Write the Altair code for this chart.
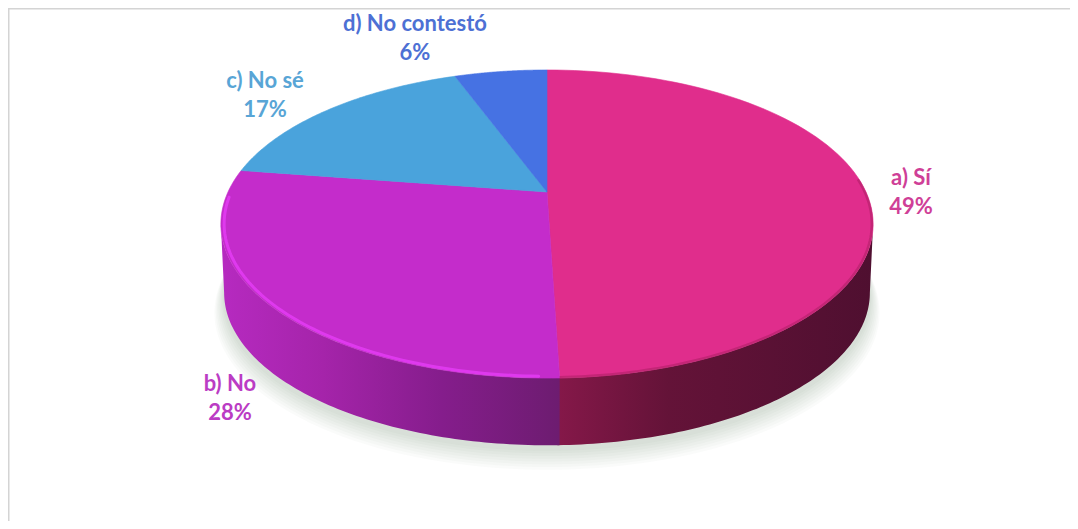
import numpy as np
import altair as alt

# Values (the slice geometry fits 49.5 / 27.9 / 17.0 / 5.6)
categories = ["a) Sí", "b) No", "c) No sé", "d) No contestó"]
shares = [49.5, 27.9, 17.0, 5.6]
percent_labels = ["49%", "28%", "17%", "6%"]
face_colors = ["#e02d8c", "#c42ccb", "#4aa3dc", "#4672e3"]
text_colors = ["#cf3f97", "#bb3cc4", "#58a5d6", "#4d70d4"]

# Perspective disc used to project angles on screen
CX, CY = 547.0, 192.0
RX, RY, K = 319.0, 147.4, 0.208
LIP, SINK = 0.99, 69.0
EDGE_R, EDGE_L = 102.0, 258.0  # silhouette angles of the perspective rim


def rim(a0, a1, scale=1.0, dy=0.0, n=90):
    t = np.radians(np.linspace(a0, a1, n))
    u, v = np.sin(t), np.cos(t)
    w = 1 + K * v
    return np.column_stack([CX + scale * RX * u / w, CY + dy - scale * RY * v / w]).tolist()


def feature(kind, coords, key="x"):
    return {"type": "Feature", "properties": {"key": key},
            "geometry": {"type": kind, "coordinates": coords}}


PROJ = dict(type="identity", scale=1, translate=[-8, -8])
edges = np.cumsum([0.0] + shares) * 3.6


def shape(features, **mark):
    return alt.Chart(alt.Data(values=features)).mark_geoshape(**mark).project(**PROJ)


def hgrad(stops):
    return {"gradient": "linear", "x1": 0, "x2": 1, "y1": 0, "y2": 0,
            "stops": [{"offset": o, "color": c} for o, c in stops]}


layers = []

# soft ground shadow
for grow, drop in [(1.03, 19), (1.026, 17), (1.022, 15), (1.018, 13), (1.014, 11),
                   (1.01, 9), (1.006, 7), (1.003, 5)]:
    ring = rim(0, 360, LIP * grow, SINK + drop, 180)
    layers.append(shape([feature("Polygon", [ring])], fill="#607060", fillOpacity=0.03, stroke=None))

# side walls (a runs a little under b so no seam shows)
wall_a_top = rim(EDGE_R, edges[1] + 0.3)
wall_a_low = rim(edges[1] + 0.3, EDGE_R, LIP, SINK)
layers.append(shape([feature("Polygon", [wall_a_top + wall_a_low + wall_a_top[:1]])],
                    fill=hgrad([(0, "#851849"), (0.35, "#641338"), (1, "#4f0f30")]), stroke=None))
wall_b_top = rim(edges[1], EDGE_L)
wall_b_low = rim(EDGE_L, edges[1], LIP, SINK)
layers.append(shape([feature("Polygon", [wall_b_top + wall_b_low + wall_b_top[:1]])],
                    fill=hgrad([(0, "#b62ac0"), (0.3, "#a524aa"), (0.65, "#851d8c"), (1, "#6d1c70")]), stroke=None))

# top faces
apex = [CX, CY]
faces = []
for i, name in enumerate(categories):
    arc = rim(edges[i], edges[i + 1])
    faces.append(feature("Polygon", [[apex] + arc + [apex]], name))
face_scale = alt.Scale(domain=categories, range=face_colors)
layers.append(shape(faces, strokeWidth=0.6).encode(
    color=alt.Color("properties.key:N", legend=None, scale=face_scale),
    stroke=alt.Stroke("properties.key:N", legend=None, scale=face_scale)))

# rim lighting: highlight on b), shading on a)
layers.append(shape([feature("LineString", rim(edges[1] + 3, 268, 0.99))],
                    filled=False, strokeWidth=3, strokeCap="round", stroke="#e43cf4", strokeOpacity=0.85))
layers.append(shape([feature("LineString", rim(85, edges[1], 0.996))],
                    filled=False, strokeWidth=2.5, stroke="#b01f68", strokeOpacity=0.6))

# labels: y is the centre of the first line
label_xy = [(911, 178), (230, 384), (265, 81), (415, 24)]
for name, pct, col, (x, y) in zip(categories, percent_labels, text_colors, label_xy):
    layers.append(alt.Chart(alt.Data(values=[{"t": name + "\n" + pct}])).mark_text(
        font="Lato", fontWeight="bold", fontSize=22, lineBreak="\n", lineHeight=29,
        align="center", baseline="middle", color=col
    ).encode(text="t:N", x=alt.value(x - 8), y=alt.value(y - 8)))

# frame lines of the original screenshot
W, H = 1062, 513
frame = alt.Chart(alt.Data(values=[{"a": 0}]))
layers.append(frame.mark_rule(color="#d4d4d4", strokeWidth=3).encode(
    x=alt.value(0), x2=alt.value(W), y=alt.value(0)))
layers.append(frame.mark_rule(color="#d4d4d4", strokeWidth=3).encode(
    x=alt.value(0), y=alt.value(0), y2=alt.value(H)))

chart = alt.layer(*layers).properties(
    width=W, height=H, padding=0, background="white",
    autosize=alt.AutoSizeParams(type="none")
).configure_view(stroke=None)

chart.save("out.html", embed_options={"renderer": "svg", "actions": False})
